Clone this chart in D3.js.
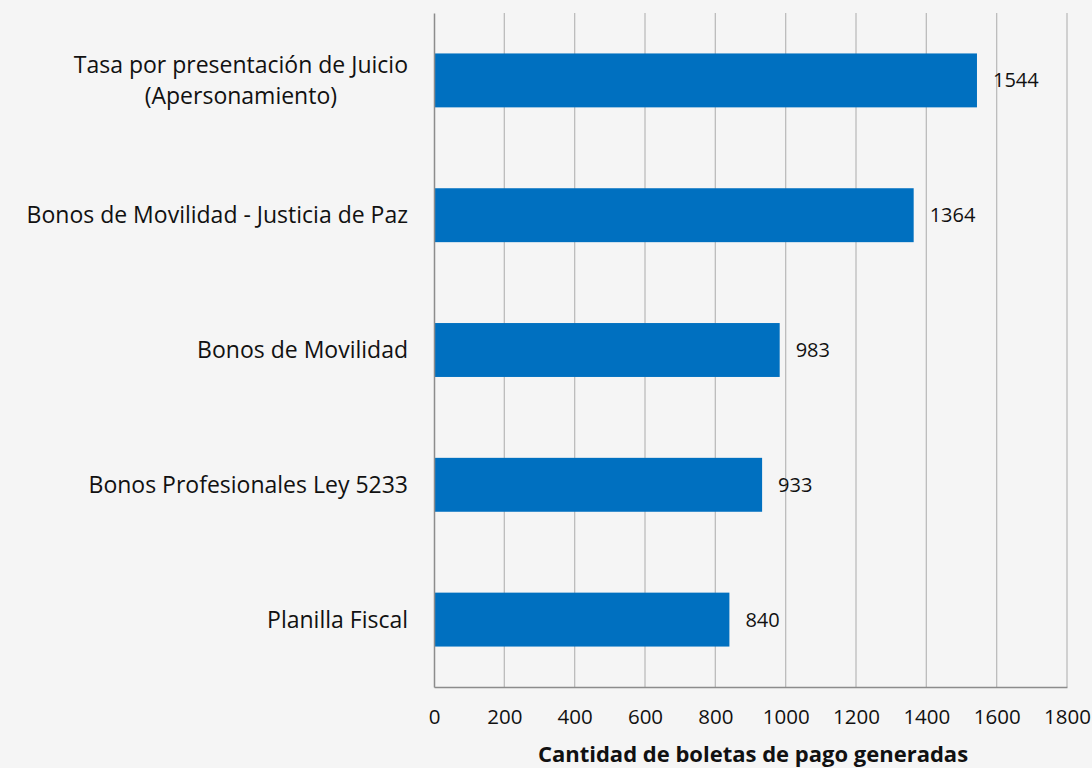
<!DOCTYPE html>
<html>
<head>
<meta charset="utf-8">
<script src="https://cdn.jsdelivr.net/npm/d3@7"></script>
<style>
  html, body { margin: 0; padding: 0; background: #f5f5f5; }
  svg { display: block; font-family: "Open Sans", sans-serif; }
</style>
</head>
<body>
<svg id="chart" width="1092" height="768"></svg>
<script>
// datos del gráfico
const categories = [
  ["Tasa por presentación de Juicio", "(Apersonamiento)"],
  ["Bonos de Movilidad - Justicia de Paz"],
  ["Bonos de Movilidad"],
  ["Bonos Profesionales Ley 5233"],
  ["Planilla Fiscal"]
];
const values = [1544, 1364, 983, 933, 840];
const xTicks = [0, 200, 400, 600, 800, 1000, 1200, 1400, 1600, 1800];
const xTitle = "Cantidad de boletas de pago generadas";

const width = 1092;
const height = 768;
const margin = { top: 13, bottom: 81, left: 434, right: 25 };
const boundsWidth = width - margin.left - margin.right;
const boundsHeight = height - margin.top - margin.bottom;

const svg = d3.select("#chart");
const g = svg.append("g").attr("transform", `translate(${margin.left},${margin.top})`);

const scaleX = d3.scaleLinear().domain([0, 1800]).range([0, boundsWidth]);
const scaleY = d3.scaleBand()
  .domain(d3.range(categories.length))
  .range([0, boundsHeight])
  .paddingInner(0.6)
  .paddingOuter(0.3);

// líneas de cuadrícula
g.append("g")
  .selectAll("line")
  .data(xTicks.slice(1))
  .enter()
  .append("line")
  .attr("x1", d => scaleX(d)).attr("x2", d => scaleX(d))
  .attr("y1", 0).attr("y2", boundsHeight)
  .attr("stroke", "#bcbcbc")
  .attr("stroke-width", 1.3);

// barras
g.selectAll(".bar")
  .data(values)
  .enter()
  .append("rect")
  .attr("class", "bar")
  .attr("x", 0)
  .attr("y", (d, i) => scaleY(i))
  .attr("width", d => scaleX(d))
  .attr("height", scaleY.bandwidth())
  .attr("fill", "#0070c0");

// etiquetas de valor
g.selectAll(".val")
  .data(values)
  .enter()
  .append("text")
  .attr("class", "val")
  .attr("x", d => scaleX(d) + 16)
  .attr("y", (d, i) => scaleY(i) + scaleY.bandwidth() / 2)
  .attr("dy", "0.35em")
  .attr("font-size", 20)
  .attr("fill", "#111")
  .text(d => d);

// eje X
const xAxis = d3.axisBottom(scaleX).tickValues(xTicks).tickFormat(d3.format("d")).tickSize(0).tickPadding(22);
const gx = g.append("g")
  .attr("transform", `translate(0,${boundsHeight})`)
  .call(xAxis);
gx.select(".domain").attr("stroke", "#8c8c8c").attr("stroke-width", 1.5);
gx.selectAll("text").attr("font-size", 20.5).attr("fill", "#111").attr("font-family", "'Open Sans', sans-serif");

// eje Y
const yAxis = d3.axisLeft(scaleY).tickSize(0).tickFormat("");
const gy = g.append("g").call(yAxis);
gy.select(".domain").attr("stroke", "#8c8c8c").attr("stroke-width", 1.5);

// etiquetas de categoría (multilínea)
const cat = g.append("g").selectAll("text")
  .data(categories)
  .enter()
  .append("text")
  .attr("text-anchor", "middle")
  .attr("font-size", 23)
  .attr("fill", "#111")
  .attr("transform", (d, i) => `translate(-26,${scaleY(i) + scaleY.bandwidth() / 2})`);

cat.each(function (lines) {
  const t = d3.select(this);
  const n = lines.length;
  lines.forEach((line, k) => {
    t.append("tspan")
      .attr("x", 0)
      .attr("y", (k - (n - 1) / 2) * 31)
      .attr("dy", "0.35em")
      .text(line);
  });
});
// alinear a la derecha, líneas centradas entre sí
cat.each(function () {
  const bb = this.getBBox();
  const t = d3.select(this);
  t.attr("transform", t.attr("transform") + ` translate(${-bb.width / 2},0)`);
});

// título del eje X
svg.append("text")
  .attr("x", 753)
  .attr("y", 754)
  .attr("dy", "0.35em")
  .attr("text-anchor", "middle")
  .attr("font-size", 22)
  .attr("font-weight", "bold")
  .attr("fill", "#111")
  .text(xTitle);
</script>
</body>
</html>
